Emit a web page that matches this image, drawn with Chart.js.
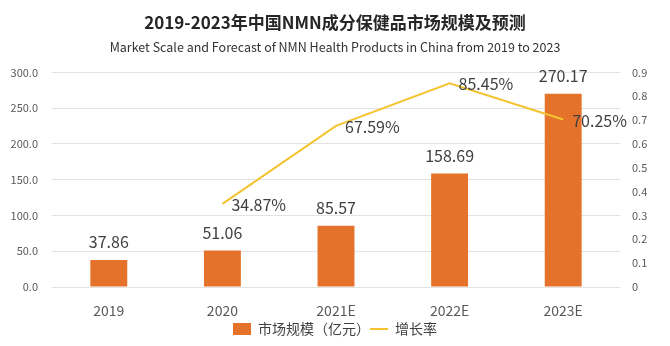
<!DOCTYPE html>
<html>
<head>
<meta charset="utf-8">
<script src="https://cdn.jsdelivr.net/npm/chart.js@4.4.0/dist/chart.umd.min.js"></script>
<style>
  html, body { margin: 0; padding: 0; background: #fff; }
  #wrap { width: 670px; height: 346px; }
</style>
</head>
<body>
<div id="wrap"><canvas id="nmnChart"></canvas></div>
<script>
// data dari gambar
const categories = ["2019", "2020", "2021E", "2022E", "2023E"];
const marketSize = [37.86, 51.06, 85.57, 158.69, 270.17];
const growthRate = [null, 0.3487, 0.6759, 0.8545, 0.7025];
const leftTicks = [0, 50, 100, 150, 200, 250, 300];
const rightTicks = [0, 0.1, 0.2, 0.3, 0.4, 0.5, 0.6, 0.7, 0.8, 0.9];

const fontFamily = "'Noto Sans CJK SC', 'Noto Sans', sans-serif";
const barColor = "#E5722A";
const lineColor = "#F3C330";

// plugin label nilai (tanpa datalabels)
const valueLabels = {
  id: "valueLabels",
  afterDatasetsDraw(chart) {
    const ctx = chart.ctx;
    ctx.save();
    ctx.font = "16px " + fontFamily;
    ctx.fillStyle = "#404040";
    ctx.textBaseline = "middle";

    // label di atas batang
    ctx.textAlign = "center";
    chart.getDatasetMeta(0).data.forEach((bar, i) => {
      ctx.fillText(marketSize[i].toFixed(2), bar.x, bar.y - 18);
    });

    // label persen di kanan titik
    ctx.textAlign = "left";
    chart.getDatasetMeta(1).data.forEach((pt, i) => {
      if (growthRate[i] === null) return;
      const text = (growthRate[i] * 100).toFixed(2) + "%";
      ctx.fillText(text, pt.x + 9, pt.y + 1);
    });
    ctx.restore();
  },
};

const ctx = document.getElementById("nmnChart").getContext("2d");

new Chart(ctx, {
  data: {
    labels: categories,
    datasets: [
      {
        type: "bar",
        label: "市场规模（亿元）",
        data: marketSize,
        backgroundColor: barColor,
        yAxisID: "y",
        barPercentage: 0.65,
        categoryPercentage: 0.5,
        pointStyle: "rect",
        order: 2,
      },
      {
        type: "line",
        label: "增长率",
        data: growthRate,
        borderColor: lineColor,
        backgroundColor: lineColor,
        borderWidth: 2,
        pointRadius: 0,
        pointHoverRadius: 0,
        tension: 0,
        yAxisID: "y1",
        pointStyle: "line",
        order: 1,
      },
    ],
  },
  options: {
    responsive: true,
    maintainAspectRatio: false,
    animation: false,
    layout: { padding: { top: 12, left: 0, right: 0, bottom: 0 } },
    plugins: {
      title: {
        display: true,
        text: "2019-2023年中国NMN成分保健品市场规模及预测",
        color: "#262626",
        font: { family: fontFamily, size: 17, weight: "bold" },
        padding: { top: 0, bottom: 7 },
      },
      subtitle: {
        display: true,
        text: "Market Scale and Forecast of NMN Health Products in China from 2019 to 2023",
        color: "#333",
        font: { family: fontFamily, size: 12.5 },
        padding: { top: 0, bottom: 18 },
      },
      legend: {
        position: "bottom",
        labels: {
          usePointStyle: true,
          pointStyleWidth: 18,
          boxHeight: 12,
          color: "#404040",
          font: { family: fontFamily, size: 14, lineHeight: 1 },
          padding: 0,
          sort: (a, b) => a.datasetIndex - b.datasetIndex,
        },
      },
      tooltip: { enabled: false },
    },
    scales: {
      x: {
        grid: { display: false },
        border: { display: false },
        afterFit: (axis) => {
          axis.height = 35;
        },
        ticks: {
          color: "#595959",
          font: { family: fontFamily, size: 14 },
          padding: 7,
        },
      },
      y: {
        position: "left",
        min: 0,
        max: 300,
        afterBuildTicks: (axis) => {
          axis.ticks = leftTicks.map((v) => ({ value: v }));
        },
        afterFit: (axis) => {
          axis.width = 52;
        },
        grid: { color: "#E3E3E3", drawTicks: false },
        border: { display: false },
        ticks: {
          color: "#595959",
          font: { family: fontFamily, size: 11 },
          padding: 14,
          callback: (v) => Number(v).toFixed(1),
        },
      },
      y1: {
        position: "right",
        min: 0,
        max: 0.9,
        afterBuildTicks: (axis) => {
          axis.ticks = rightTicks.map((v) => ({ value: v }));
        },
        afterFit: (axis) => {
          axis.width = 50;
        },
        grid: { display: false, drawTicks: false },
        border: { display: false },
        ticks: {
          color: "#595959",
          font: { family: fontFamily, size: 11 },
          padding: 12,
          callback: (v) => (v === 0 ? "0" : Number(v).toFixed(1)),
        },
      },
    },
  },
  plugins: [valueLabels],
});
</script>
</body>
</html>
